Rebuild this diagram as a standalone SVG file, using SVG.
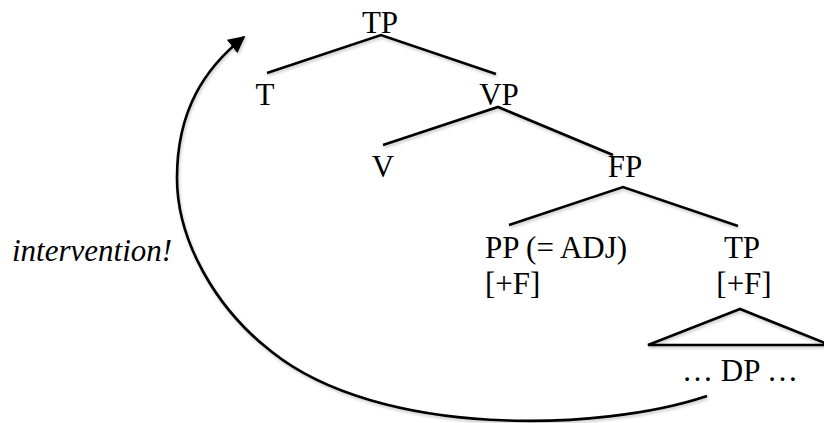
<svg xmlns="http://www.w3.org/2000/svg" width="824" height="423" viewBox="0 0 824 423">
  <style>
    text { font-family: 'Liberation Serif', 'Times New Roman', Times, 'DejaVu Serif', serif; font-size: 31px; fill: #000; }
    .mid { text-anchor: middle; }
    .it { font-style: italic; }
    .edge { stroke: #000; stroke-width: 2.6; fill: none; stroke-linecap: butt; stroke-linejoin: miter; filter: url(#soft); }
  </style>
  <defs>
    <filter id="soft" x="-10%" y="-10%" width="120%" height="130%">
      <feDropShadow dx="1" dy="2" stdDeviation="1.4" flood-color="#000" flood-opacity="0.22"/>
    </filter>
    <marker id="head" viewBox="0 0 10 10" refX="9" refY="5" markerWidth="6.5" markerHeight="6.5" markerUnits="strokeWidth" orient="auto">
      <path d="M0,0 L10,5 L0,10 z" fill="#000"/>
    </marker>
  </defs>

  <!-- branches of the tree -->
  <g id="connectors">
    <polyline class="edge" points="267,73 381,35 496,74"/>
    <polyline class="edge" points="383,145 498,107 613,155"/>
    <polyline class="edge" points="509,225 623,187 738,226"/>
    <path class="edge" d="M740,309 L648,345 L830,345 Z"/>
    <!-- movement arrow -->
    <path class="edge" d="M707,396 C600,432 380,438 272,352 C215,308 177,240 177,178 C177,110 205,68 244,37" marker-end="url(#head)"/>
  </g>

  <g id="tp-root"><text class="mid" x="380" y="33" font-family="Liberation Serif, serif">TP</text></g>
  <g id="t-head"><text class="mid" x="265" y="105">T</text></g>
  <g id="vp"><text class="mid" x="499" y="105">VP</text></g>
  <g id="v-head"><text class="mid" x="383" y="177">V</text></g>
  <g id="fp"><text class="mid" x="625" y="177">FP</text></g>
  <g id="pp-adj">
    <text x="485" y="258">PP (= ADJ)</text>
    <text x="485" y="294">[+F]</text>
  </g>
  <g id="tp-low">
    <text class="mid" x="742" y="258">TP</text>
    <text class="mid" x="744" y="294">[+F]</text>
  </g>
  <g id="dp"><text class="mid" x="740" y="381">… DP …</text></g>
  <g id="intervention"><text class="it" x="12" y="261">intervention!</text></g>
</svg>
